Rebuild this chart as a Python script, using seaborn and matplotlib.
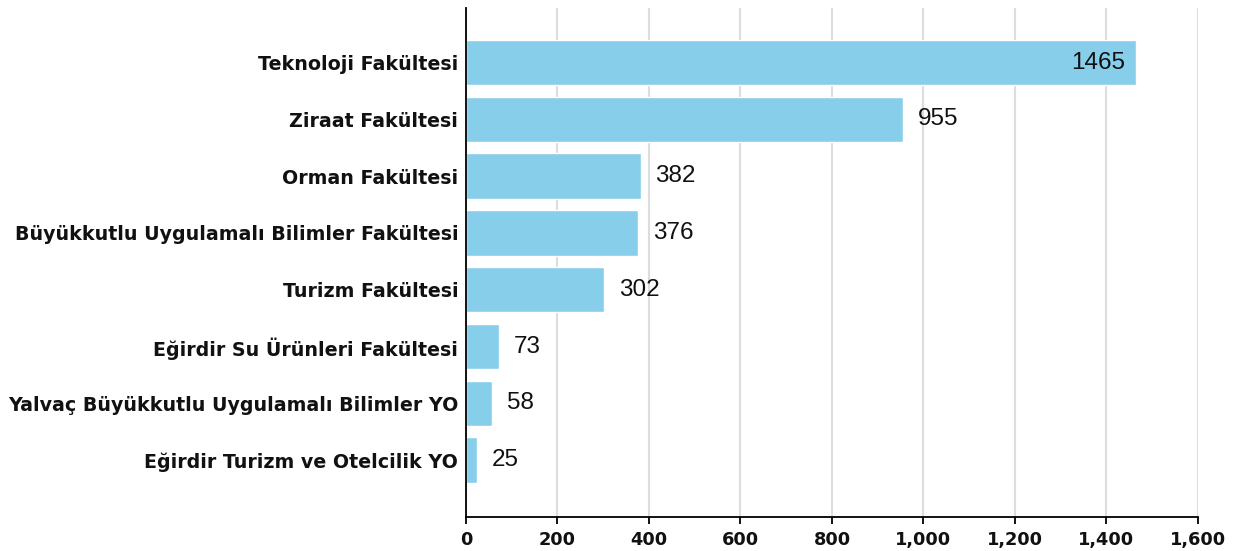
import matplotlib
matplotlib.use("Agg")
import matplotlib.pyplot as plt
import seaborn as sns
import pandas as pd

# faculty names and counts
faculties = ["Teknoloji Fakültesi", "Ziraat Fakültesi", "Orman Fakültesi",
             "Büyükkutlu Uygulamalı Bilimler Fakültesi", "Turizm Fakültesi",
             "Eğirdir Su Ürünleri Fakültesi",
             "Yalvaç Büyükkutlu Uygulamalı Bilimler YO",
             "Eğirdir Turizm ve Otelcilik YO"]
counts = [1465, 955, 382, 376, 302, 73, 58, 25]
xticks = [0, 200, 400, 600, 800, 1000, 1200, 1400, 1600]

df = pd.DataFrame({"fakulte": faculties, "sayi": counts})

sns.set_style("white")
plt.rcParams["font.family"] = ["DejaVu Sans"]

fig = plt.figure(figsize=(12.35, 5.51), dpi=100)
ax = fig.add_axes([0.3773, 0.0617, 0.5927, 0.9238])

sns.barplot(data=df, x="sayi", y="fakulte", orient="h", color="#87CEEB",
            saturation=1, width=0.8, ax=ax, zorder=2)

ax.set_xlim(0, 1600)
ax.set_ylim(8.0, -0.96)
ax.set_xticks(xticks)
ax.set_xticklabels([f"{t:,}" for t in xticks], fontweight="bold",
                   fontsize=12.8, color="#111111")
ax.set_xlabel("")
ax.set_ylabel("")
ax.grid(axis="x", color="#dddddd", linewidth=1.5, zorder=0)
ax.set_axisbelow(True)

for s in ["top", "right"]:
    ax.spines[s].set_visible(False)
for s in ["left", "bottom"]:
    ax.spines[s].set_color("black")
    ax.spines[s].set_linewidth(1.3)

ax.tick_params(axis="x", bottom=True, length=5, width=1.3, color="black", pad=5)
ax.tick_params(axis="y", left=False, pad=2)
for lbl in ax.get_yticklabels():
    lbl.set_fontweight("bold")
    lbl.set_fontsize(13.7)
    lbl.set_color("#111111")

# value labels: inside the long bar, outside the rest
for i, v in enumerate(counts):
    if v > 1300:
        ax.text(v - 25, i, str(v), ha="right", va="center", fontsize=17.5,
                color="#111111", family="Liberation Sans")
    else:
        ax.text(v + 32, i, str(v), ha="left", va="center", fontsize=17.5,
                color="#111111", family="Liberation Sans")

fig.savefig("out.png", dpi=100)
